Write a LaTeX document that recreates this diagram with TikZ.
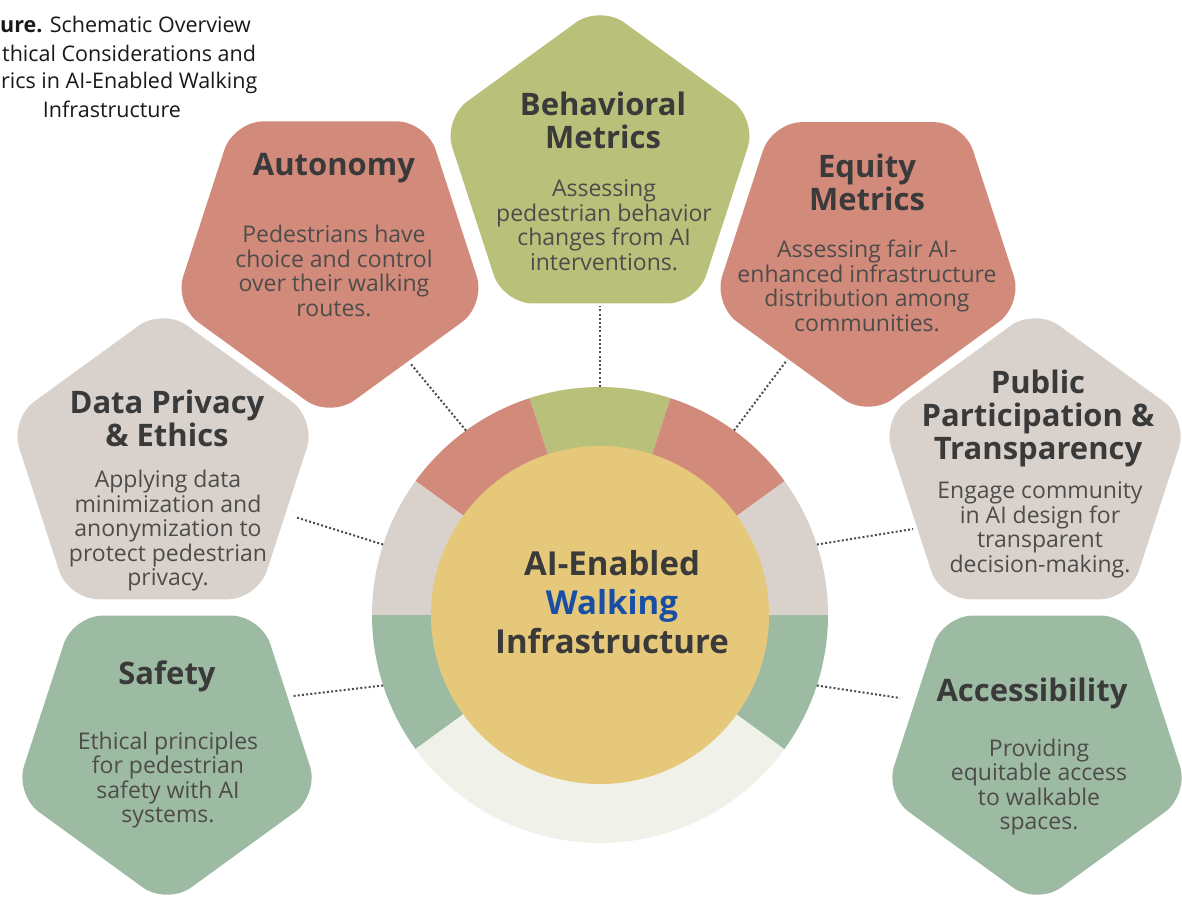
\documentclass[tikz,border=0pt]{standalone}
\usepackage{fontspec}
\setmainfont{Open Sans}
\usetikzlibrary{calc}
\definecolor{cred}{RGB}{210,138,123}
\definecolor{colive}{RGB}{184,192,122}
\definecolor{cbeige}{RGB}{217,210,204}
\definecolor{csage}{RGB}{157,187,163}
\definecolor{cyellow}{RGB}{230,200,122}
\definecolor{clight}{RGB}{240,241,233}
\definecolor{ctitle}{RGB}{58,58,58}
\definecolor{cbody}{RGB}{78,76,74}
\definecolor{cblue}{RGB}{24,78,166}
\definecolor{ccap}{RGB}{25,25,25}
\tikzset{
  pent/.style={rounded corners=30pt},
  ttl/.style={font=\bfseries\fontsize{31}{33}\selectfont, text=ctitle, align=center, inner sep=0pt},
  bdy/.style={font=\fontsize{23}{24.5}\selectfont, text=cbody, align=center, inner sep=0pt},
  hubtxt/.style={font=\bfseries\fontsize{33}{39}\selectfont, text=ctitle, align=center, inner sep=0pt},
  captxt/.style={font=\fontsize{21.5}{28}\selectfont, text=ccap, inner sep=0pt},
  conn/.style={draw=black!70, line width=2pt, dash pattern=on 2pt off 2.2pt},
}
% pentagon pointing up: x, y(pixel), R, colour
\newcommand\pentup[4]{%
  \fill[#4, pent, shift={(#1,-#2)}] ($(18:#3)!0.5!(90:#3)$) -- (90:#3) -- (162:#3) -- (234:#3) -- (306:#3) -- (18:#3) -- cycle;}
% pentagon pointing down
\newcommand\pentdown[4]{%
  \fill[#4, pent, shift={(#1,-#2)}] ($(54:#3)!0.5!(126:#3)$) -- (126:#3) -- (198:#3) -- (270:#3) -- (342:#3) -- (54:#3) -- cycle;}
\newcommand\ringseg[3]{%
  \fill[#3] (C) -- ($(C)+(#1:228)$) arc[start angle=#1, end angle=#2, radius=228] -- cycle;}
\begin{document}
\begin{tikzpicture}[x=1pt,y=1pt]
\useasboundingbox (0,0) rectangle (1182,-903);
\fill[white] (0,0) rectangle (1182,-903);

% pentagons
\pentup{600}{170}{165}{colive}
\pentdown{330}{254}{164}{cred}
\pentdown{868}{254}{163}{cred}
\pentup{163}{469}{161}{cbeige}
\pentup{1035}{469}{161}{cbeige}
\pentdown{167}{745}{160}{csage}
\pentdown{1037}{745}{160}{csage}

% ring
\coordinate (C) at (600,-615);
\ringseg{72}{108}{colive}
\ringseg{108}{144}{cred}
\ringseg{144}{180}{cbeige}
\ringseg{180}{216}{csage}
\ringseg{216}{324}{clight}
\ringseg{324}{360}{csage}
\ringseg{0}{36}{cbeige}
\ringseg{36}{72}{cred}
\node[circle, fill=cyellow, minimum size=338pt, inner sep=0pt] (hub) at (C) {};

% connector end points
\coordinate (rBeh) at ($(C)+(90:228)$);
\coordinate (rAut) at ($(C)+(126:228)$);
\coordinate (rEqu) at ($(C)+(54:228)$);
\coordinate (rDpe) at ($(C)+(162:228)$);
\coordinate (rPub) at ($(C)+(18:228)$);
\coordinate (rSaf) at ($(C)+(198:228)$);
\coordinate (rAcc) at ($(C)+(342:228)$);
\coordinate (pBeh) at (600,-306);
\coordinate (pAut) at (410,-363);
\coordinate (pEqu) at (787,-360);
\coordinate (pDpe) at (295,-517);
\coordinate (pPub) at (913,-529);
\coordinate (pSaf) at (293,-696);
\coordinate (pAcc) at (900,-698);
\draw[conn] (rBeh) -- (pBeh);
\draw[conn] (rAut) -- (pAut);
\draw[conn] (rEqu) -- (pEqu);
\draw[conn] (rDpe) -- (pDpe);
\draw[conn] (rPub) -- (pPub);
\draw[conn] (rSaf) -- (pSaf);
\draw[conn] (rAcc) -- (pAcc);

% centre text
\node[hubtxt] (hubtext) at (612,-602) {AI-Enabled\\\textcolor{cblue}{Walking}\\Infrastructure};

% texts
\node[ttl] (behT) at (603,-120) {Behavioral\\Metrics};
\node[bdy] (behB) at (604,-225) {Assessing\\pedestrian behavior\\changes from AI\\interventions.};
\node[ttl] (autT) at (334,-168) {Autonomy};
\node[bdy] (autB) at (334,-271) {Pedestrians have\\choice and control\\over their walking\\routes.};
\node[ttl] (equT) at (867,-182) {Equity\\Metrics};
\node[bdy] (equB) at (867,-286) {Assessing fair AI-\\enhanced infrastructure\\distribution among\\communities.};
\node[ttl] (dpeT) at (167,-418) {Data Privacy\\\& Ethics};
\node[bdy] (dpeB) at (168,-531) {Applying data\\minimization and\\anonymization to\\protect pedestrian\\privacy.};
\node[ttl] (pubT) at (1038,-418) {Public\\Participation \&\\Transparency};
\node[bdy] (pubB) at (1040,-530) {Engage community\\in AI design for\\transparent\\decision-making.};
\node[ttl] (safT) at (167,-676) {Safety};
\node[bdy] (safB) at (168,-780) {Ethical principles\\for pedestrian\\safety with AI\\systems.};
\node[ttl] (accT) at (1032,-693) {Accessibility};
\node[bdy] (accB) at (1039,-787) {Providing\\equitable access\\to walkable\\spaces.};

% caption
\node[captxt, anchor=base west] (cap1) at (0,-32) {\textbf{ure.} Schematic Overview};
\node[captxt, anchor=base west] (cap2) at (2,-61) {thical Considerations and};
\node[captxt, anchor=base west] (cap3) at (1,-88) {rics in AI-Enabled Walking};
\node[captxt, anchor=base] (cap4) at (112,-117) {Infrastructure};
\end{tikzpicture}
\end{document}
